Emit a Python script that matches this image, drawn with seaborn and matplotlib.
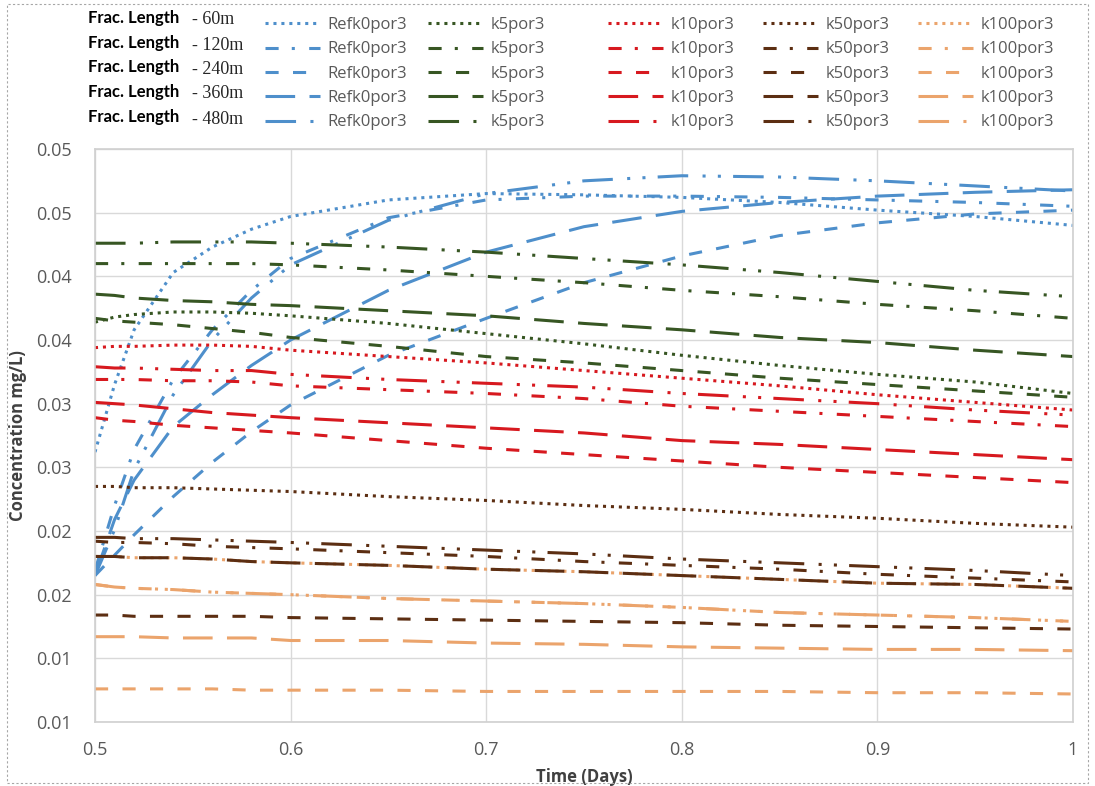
import matplotlib.pyplot as plt
from matplotlib.lines import Line2D
from matplotlib.patches import Rectangle
import pandas as pd
import seaborn as sns

time = [0.5, 0.51, 0.52, 0.54, 0.56, 0.58, 0.6, 0.65, 0.7, 0.75, 0.8, 0.85, 0.9, 0.95, 1.0]

ref_60 = [0.0262, 0.0315, 0.0358, 0.0403, 0.0423, 0.0437, 0.0447, 0.0460, 0.0465, 0.0464, 0.0462, 0.0458, 0.0452, 0.0447, 0.0440]
ref_120 = [0.0169, 0.0220, 0.0264, 0.0319, 0.0358, 0.0389, 0.0414, 0.0446, 0.0460, 0.0463, 0.0463, 0.0462, 0.0460, 0.0458, 0.0455]
ref_240 = [0.0165, 0.0181, 0.0197, 0.0227, 0.0254, 0.0278, 0.0299, 0.0338, 0.0367, 0.0395, 0.0416, 0.0432, 0.0442, 0.0449, 0.0452]
ref_360 = [0.0165, 0.0209, 0.0240, 0.0282, 0.0307, 0.0330, 0.0350, 0.0389, 0.0419, 0.0439, 0.0451, 0.0458, 0.0463, 0.0466, 0.0468]
ref_480 = [0.0165, 0.0201, 0.0248, 0.0307, 0.0350, 0.0383, 0.0409, 0.0444, 0.0465, 0.0475, 0.0479, 0.0478, 0.0475, 0.0471, 0.0467]

k5_60 = [0.0364, 0.0368, 0.0370, 0.0372, 0.0372, 0.0371, 0.0369, 0.0363, 0.0355, 0.0347, 0.0338, 0.0330, 0.0323, 0.0317, 0.0308]
k5_120 = [0.0410, 0.0410, 0.0410, 0.0410, 0.0410, 0.0410, 0.0409, 0.0405, 0.0400, 0.0395, 0.0389, 0.0384, 0.0378, 0.0373, 0.0367]
k5_240 = [0.0367, 0.0365, 0.0364, 0.0362, 0.0359, 0.0356, 0.0352, 0.0345, 0.0337, 0.0332, 0.0326, 0.0320, 0.0315, 0.0310, 0.0305]
k5_360 = [0.0386, 0.0385, 0.0383, 0.0381, 0.0380, 0.0378, 0.0377, 0.0373, 0.0369, 0.0363, 0.0358, 0.0352, 0.0348, 0.0342, 0.0337]
k5_480 = [0.0426, 0.0426, 0.0426, 0.0427, 0.0427, 0.0427, 0.0426, 0.0423, 0.0419, 0.0414, 0.0409, 0.0403, 0.0396, 0.0389, 0.0384]

k10_60 = [0.0344, 0.0345, 0.0345, 0.0346, 0.0346, 0.0345, 0.0342, 0.0337, 0.0332, 0.0326, 0.0320, 0.0314, 0.0307, 0.0301, 0.0295]
k10_120 = [0.0319, 0.0319, 0.0319, 0.0318, 0.0318, 0.0317, 0.0314, 0.0311, 0.0308, 0.0304, 0.0298, 0.0294, 0.0290, 0.0286, 0.0282]
k10_240 = [0.0289, 0.0287, 0.0286, 0.0283, 0.0281, 0.0279, 0.0277, 0.0271, 0.0265, 0.0260, 0.0255, 0.0250, 0.0246, 0.0242, 0.0238]
k10_360 = [0.0301, 0.0300, 0.0299, 0.0296, 0.0293, 0.0291, 0.0289, 0.0285, 0.0281, 0.0277, 0.0271, 0.0268, 0.0264, 0.0260, 0.0256]
k10_480 = [0.0329, 0.0328, 0.0328, 0.0327, 0.0326, 0.0326, 0.0323, 0.0319, 0.0316, 0.0313, 0.0308, 0.0304, 0.0300, 0.0295, 0.0291]

k50_60 = [0.0235, 0.0235, 0.0234, 0.0234, 0.0233, 0.0232, 0.0231, 0.0227, 0.0224, 0.0220, 0.0217, 0.0213, 0.0210, 0.0206, 0.0203]
k50_120 = [0.0192, 0.0191, 0.0191, 0.0190, 0.0188, 0.0187, 0.0186, 0.0183, 0.0180, 0.0176, 0.0173, 0.0170, 0.0166, 0.0163, 0.0160]
k50_240 = [0.0134, 0.0134, 0.0133, 0.0133, 0.0133, 0.0133, 0.0132, 0.0131, 0.0130, 0.0129, 0.0128, 0.0126, 0.0125, 0.0124, 0.0123]
k50_360 = [0.0180, 0.0180, 0.0179, 0.0179, 0.0178, 0.0176, 0.0175, 0.0173, 0.0170, 0.0168, 0.0165, 0.0162, 0.0159, 0.0158, 0.0155]
k50_480 = [0.0195, 0.0195, 0.0194, 0.0194, 0.0193, 0.0192, 0.0191, 0.0188, 0.0185, 0.0182, 0.0178, 0.0175, 0.0172, 0.0169, 0.0165]

k100_60 = [0.0180, 0.0180, 0.0179, 0.0179, 0.0178, 0.0176, 0.0175, 0.0173, 0.0170, 0.0168, 0.0165, 0.0162, 0.0159, 0.0158, 0.0155]
k100_120 = [0.0158, 0.0156, 0.0155, 0.0154, 0.0152, 0.0151, 0.0150, 0.0147, 0.0145, 0.0143, 0.0140, 0.0136, 0.0134, 0.0132, 0.0129]
k100_240 = [0.0076, 0.0076, 0.0076, 0.0076, 0.0076, 0.0075, 0.0075, 0.0075, 0.0074, 0.0074, 0.0074, 0.0074, 0.0073, 0.0073, 0.0072]
k100_360 = [0.0117, 0.0117, 0.0117, 0.0116, 0.0116, 0.0116, 0.0114, 0.0114, 0.0112, 0.0111, 0.0109, 0.0108, 0.0107, 0.0107, 0.0106]
k100_480 = [0.0158, 0.0156, 0.0155, 0.0154, 0.0152, 0.0151, 0.0150, 0.0147, 0.0145, 0.0143, 0.0140, 0.0136, 0.0134, 0.0132, 0.0129]

groups = ["Refk0por3", "k5por3", "k10por3", "k50por3", "k100por3"]
lengths = ["60m", "120m", "240m", "360m", "480m"]
conc = [
    [ref_60, ref_120, ref_240, ref_360, ref_480],
    [k5_60, k5_120, k5_240, k5_360, k5_480],
    [k10_60, k10_120, k10_240, k10_360, k10_480],
    [k50_60, k50_120, k50_240, k50_360, k50_480],
    [k100_60, k100_120, k100_240, k100_360, k100_480],
]

yticks = [0.005, 0.010, 0.015, 0.020, 0.025, 0.030, 0.035, 0.040, 0.045, 0.050]
ytick_labels = ["0.01", "0.01", "0.02", "0.02", "0.03", "0.03", "0.04", "0.04", "0.05", "0.05"]
xticks = [0.5, 0.6, 0.7, 0.8, 0.9, 1.0]
xtick_labels = ["0.5", "0.6", "0.7", "0.8", "0.9", "1"]

rows = []
for g, group_series in zip(groups, conc):
    for L, vals in zip(lengths, group_series):
        for t, v in zip(time, vals):
            rows.append({"time": t, "conc": v, "k": g, "length": L})
df = pd.DataFrame(rows)

palette = {"Refk0por3": "#4E8FCB", "k5por3": "#375623", "k10por3": "#D7191F",
           "k50por3": "#5C2E12", "k100por3": "#EBA46C"}
dashes = {"60m": (1, 1.6), "120m": (4.3, 4.3, 1, 4.7), "240m": (4.3, 4.7),
          "360m": (9.7, 4.7), "480m": (10, 4.7, 1, 4, 1, 4)}
lw = 2.2

sns.set_theme(style="whitegrid")
plt.rcParams["font.family"] = ["Open Sans", "DejaVu Sans"]

fig = plt.figure(figsize=(10.95, 7.86), dpi=100)
ax = fig.add_axes([95 / 1095, 1 - 722 / 786, (1073 - 95) / 1095, (722 - 149) / 786])

# k100 drawn before k50 so the brown lines sit on top, like the original
sns.lineplot(data=df, x="time", y="conc", hue="k", style="length",
             hue_order=["Refk0por3", "k5por3", "k10por3", "k100por3", "k50por3"],
             style_order=lengths, palette=palette, dashes=dashes,
             linewidth=lw, legend=False, errorbar=None, sort=False, ax=ax)

ax.set_xlim(0.5, 1.0)
ax.set_ylim(0.005, 0.050)
ax.set_xticks(xticks)
ax.set_xticklabels(xtick_labels)
ax.set_yticks(yticks)
ax.set_yticklabels(ytick_labels)
ax.tick_params(axis="both", length=0, labelsize=13, labelcolor="#595959")
ax.tick_params(axis="x", pad=14)
ax.tick_params(axis="y", pad=17)
ax.grid(True, color="#D9D9D9", lw=1)
for s in ax.spines.values():
    s.set_color("#D0D0D0")
    s.set_linewidth(1.2)

ax.set_xlabel("Time (Days)", fontsize=12, fontweight="bold", color="#404040", labelpad=6)
ax.set_ylabel("Concentration mg/L)", fontsize=12, fontweight="bold", color="#404040", labelpad=6)

# legend: one column per permeability group
col_x = [265, 428, 608, 763, 918]
for i, g in enumerate(groups):
    handles = [Line2D([], [], color=palette[g], lw=lw, dashes=dashes[L]) for L in lengths]
    fig.legend(handles, [g] * len(lengths), loc="upper left",
               bbox_to_anchor=(col_x[i] / 1095, 1 - 17 / 786), frameon=False,
               fontsize=12, labelcolor="#595959", handlelength=3.3, handletextpad=0.45,
               labelspacing=0.5, borderpad=0, borderaxespad=0)

row_y = [18, 43, 67, 92, 117]
for L, y in zip(lengths, row_y):
    fig.text(88 / 1095, 1 - y / 786, "Frac. Length", family="Lato", fontweight="bold",
             fontsize=12, color="black", va="center")
    fig.text(192 / 1095, 1 - (y + 2) / 786, "- " + L, family="Liberation Serif",
             fontsize=13, color="#262626", va="center")

fig.patches.append(Rectangle((7 / 1095, 3 / 786), 1081 / 1095, 779 / 786,
                             transform=fig.transFigure, fill=False,
                             edgecolor="#A6A6A6", lw=0.8, ls=(0, (2, 2))))

fig.savefig("out.png", dpi=100)
